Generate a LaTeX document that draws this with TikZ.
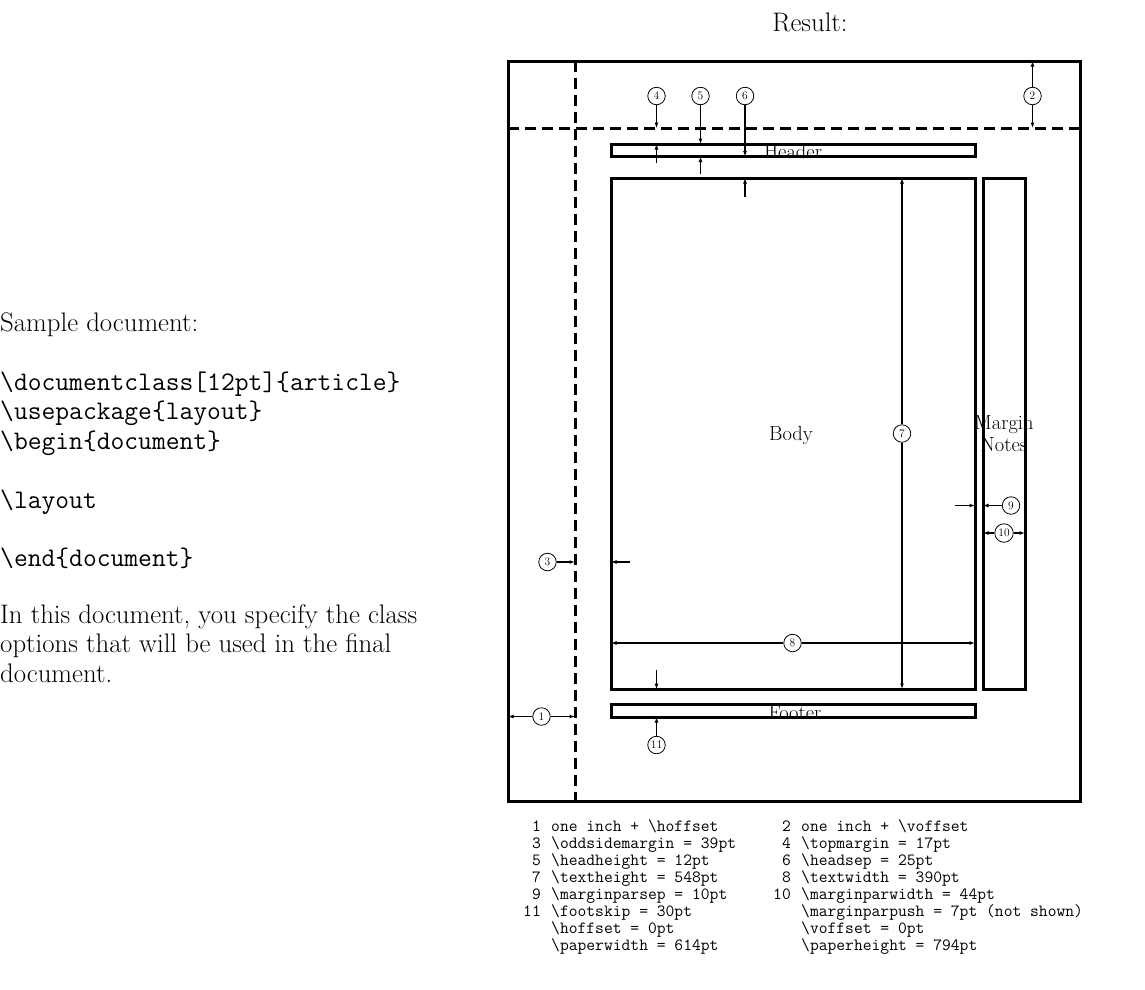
\documentclass[tikz,border=0pt]{standalone}
\usepackage{fontspec}
\usetikzlibrary{arrows.meta}
\tikzset{
 frame/.style={draw, line width=3pt, inner sep=0pt, outer sep=0pt, anchor=north west},
 dashln/.style={line width=3pt, dash pattern=on 10.5pt off 6.5pt},
 arr/.style={line width=1.8pt, -{Latex[length=5.5pt,width=4pt]}},
 arrthin/.style={line width=0.9pt, -{Latex[length=5.5pt,width=4pt]}},
 num/.style={circle, draw, line width=0.8pt, minimum size=17.5pt, inner sep=0pt, font=\fontsize{11.5}{11.5}\selectfont},
 lbl/.style={font=\fontsize{20.5}{22}\selectfont, inner sep=0pt},
 lt/.style={font=\fontsize{26.8}{29.5}\selectfont, anchor=base west, inner sep=0pt},
 ltt/.style={font=\fontsize{26.8}{29.5}\selectfont\ttfamily, anchor=base west, inner sep=0pt},
 legn/.style={font=\fontsize{17.1}{17}\selectfont\ttfamily, inner sep=0pt, anchor=base east},
 legt/.style={font=\fontsize{17.1}{17}\selectfont\ttfamily, inner sep=0pt, anchor=base west},
}
\begin{document}
\begin{tikzpicture}[x=1pt,y=-1pt]
\useasboundingbox (0,0) rectangle (1145,989);
% left text
\node[lt]  (s1) at (0,331) {Sample document:};
\node[ltt] (s3) at (0,390) {\textbackslash documentclass[12pt]\{article\}};
\node[ltt] (s4) at (0,419.5) {\textbackslash usepackage\{layout\}};
\node[ltt] (s5) at (0,449) {\textbackslash begin\{document\}};
\node[ltt] (s7) at (0,508) {\textbackslash layout};
\node[ltt] (s9) at (0,566) {\textbackslash end\{document\}};
\node[lt]  (s11) at (0,623) {In this document, you specify the class};
\node[lt]  (s12) at (0,652.5) {options that will be used in the final};
\node[lt]  (s13) at (0,682) {document.};
% result
\node[lt, anchor=base] (res) at (810,31) {Result:};
% labels (under box lines)
\node[lbl, anchor=base] (htxt) at (793,158) {Header};
\node[lbl, anchor=base] (ftxt) at (795,719) {Footer};
\node[lbl] (btxt) at (791,435) {Body};
\node[lbl, align=center] (mtxt) at (1004,434) {Margin\\Notes};
% boxes
\node[frame, minimum width=572pt, minimum height=740pt] (page) at (508,61) {};
\node[frame, minimum width=364pt, minimum height=12.5pt] (header) at (611,144) {};
\node[frame, minimum width=364pt, minimum height=511pt] (body) at (611,178) {};
\node[frame, minimum width=42pt, minimum height=511pt] (margin) at (983,178) {};
\node[frame, minimum width=364pt, minimum height=13pt] (footer) at (611,704) {};
% dashed lines
\coordinate (vt) at (575,61);
\coordinate (vb) at (575,801);
\coordinate (hl) at (508,128);
\coordinate (hr) at (1080,128);
\draw[dashln] (vt) -- (vb);
\draw[dashln] (hl) -- (hr);
% top dimensions
\node[num] (n4) at (656.5,96) {4};
\node[num] (n5) at (700.5,96) {5};
\node[num] (n6) at (745,96) {6};
\node[num] (n2) at (1032.5,96) {2};
\draw[arrthin] (n4) -- (n4 |- hl);
\coordinate (a4b) at (656.5,163);
\draw[arrthin] (a4b) -- (a4b |- header.north);
\draw[arr] (n5) -- (n5 |- header.north);
\coordinate (a5b) at (700.5,174);
\draw[arr] (a5b) -- (a5b |- header.south);
\draw[arr] (n6) -- (n6 |- header.south);
\coordinate (a6b) at (745,197);
\draw[arr] (a6b) -- (a6b |- body.north);
\draw[arr] (n2) -- (n2 |- page.north);
\draw[arr] (n2) -- (n2 |- hl);
% text height / width
\node[num] (n7) at (902,433.5) {7};
\draw[arr] (n7) -- (n7 |- body.north);
\draw[arr] (n7) -- (n7 |- body.south);
\node[num] (n8) at (792.5,643) {8};
\draw[arr] (n8) -- (n8 -| body.west);
\draw[arr] (n8) -- (n8 -| body.east);
% margin
\coordinate (a9) at (955,505.5);
\draw[arr] (a9) -- (a9 -| body.east);
\node[num] (n9) at (1011,505.5) {9};
\draw[arr] (n9) -- (n9 -| margin.west);
\node[num, minimum size=18.5pt] (n10) at (1004,533) {10};
\draw[arr] (n10) -- (n10 -| margin.west);
\draw[arr] (n10) -- (n10 -| margin.east);
% side
\node[num] (n3) at (547.5,562) {3};
\draw[arr] (n3) -- (n3 -| vt);
\coordinate (a3b) at (630,562);
\draw[arr] (a3b) -- (a3b -| body.west);
\node[num] (n1) at (541.5,716.5) {1};
\draw[arr] (n1) -- (n1 -| page.west);
\draw[arr] (n1) -- (n1 -| vt);
% footskip
\node[num] (n11) at (656.5,745) {11};
\draw[arr] (n11) -- (n11 |- footer.south);
\coordinate (a11a) at (656.5,670);
\draw[arrthin] (a11a) -- (a11a |- body.south);
% legend
\node[legn] (k1) at (541,831) {1};
\node[legt] (t1) at (551,831) {one inch + \textbackslash hoffset};
\node[legn] (k2) at (791,831) {2};
\node[legt] (t2) at (801,831) {one inch + \textbackslash voffset};
\node[legn] (k3) at (541,848) {3};
\node[legt] (t3) at (551,848) {\textbackslash oddsidemargin = 39pt};
\node[legn] (k4) at (791,848) {4};
\node[legt] (t4) at (801,848) {\textbackslash topmargin = 17pt};
\node[legn] (k5) at (541,865) {5};
\node[legt] (t5) at (551,865) {\textbackslash headheight = 12pt};
\node[legn] (k6) at (791,865) {6};
\node[legt] (t6) at (801,865) {\textbackslash headsep = 25pt};
\node[legn] (k7) at (541,882) {7};
\node[legt] (t7) at (551,882) {\textbackslash textheight = 548pt};
\node[legn] (k8) at (791,882) {8};
\node[legt] (t8) at (801,882) {\textbackslash textwidth = 390pt};
\node[legn] (k9) at (541,899) {9};
\node[legt] (t9) at (551,899) {\textbackslash marginparsep = 10pt};
\node[legn] (k10) at (791,899) {10};
\node[legt] (t10) at (801,899) {\textbackslash marginparwidth = 44pt};
\node[legn] (k11) at (541,916) {11};
\node[legt] (t11) at (551,916) {\textbackslash footskip = 30pt};
\node[legt] (t12) at (801,916) {\textbackslash marginparpush = 7pt (not shown)};
\node[legt] (t13) at (551,933) {\textbackslash hoffset = 0pt};
\node[legt] (t14) at (801,933) {\textbackslash voffset = 0pt};
\node[legt] (t15) at (551,950) {\textbackslash paperwidth = 614pt};
\node[legt] (t16) at (801,950) {\textbackslash paperheight = 794pt};
\end{tikzpicture}
\end{document}
